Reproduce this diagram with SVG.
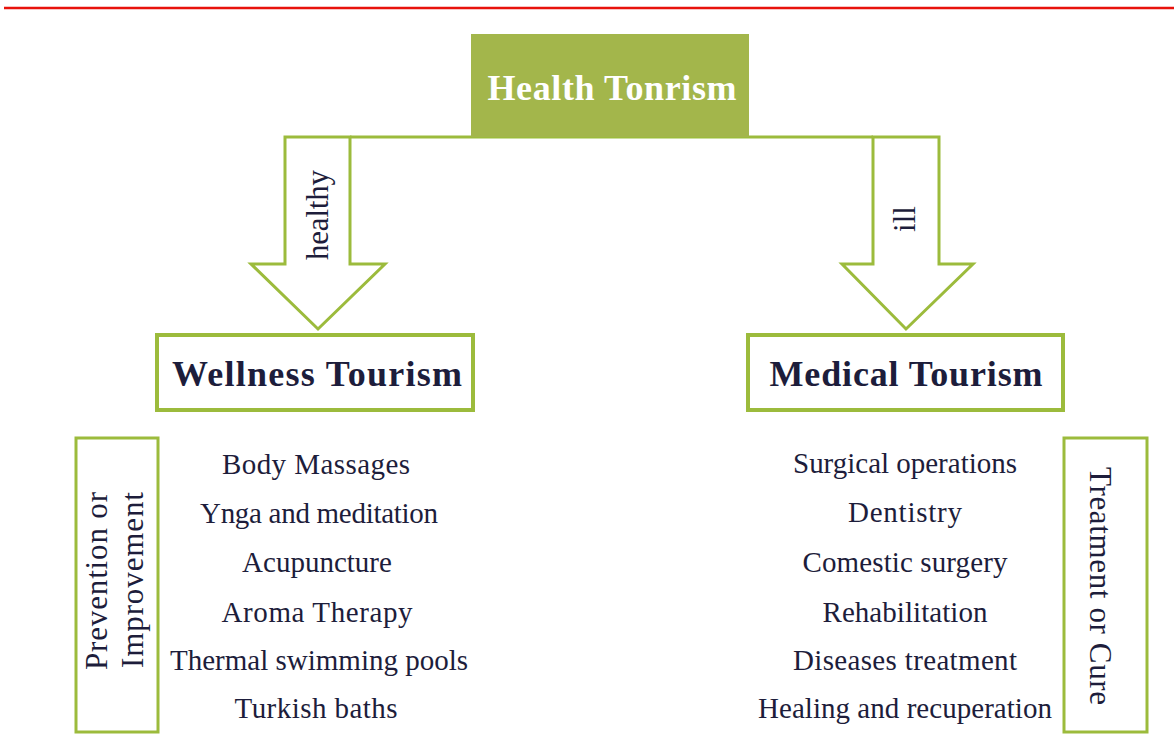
<svg xmlns="http://www.w3.org/2000/svg" width="1174" height="756" viewBox="0 0 1174 756">
  <style>
    .box { fill: #ffffff; stroke: #9cbb3c; stroke-width: 4; }
    .side { fill: #ffffff; stroke: #9cbb3c; stroke-width: 3; }
    .arrow { fill: #ffffff; stroke: #9cbb3c; stroke-width: 3; stroke-linejoin: miter; }
    .title { font-family: "Liberation Serif", "Times New Roman", serif; font-weight: bold; font-size: 36px; text-anchor: middle; }
    .item { font-family: "Liberation Serif", "Times New Roman", serif; font-size: 29px; fill: #1d1d3b; text-anchor: middle; }
    .vlabel { font-family: "Liberation Serif", "Times New Roman", serif; font-size: 31px; fill: #1d1d3b; text-anchor: middle; }
  </style>
  <rect x="0" y="0" width="1174" height="756" fill="#ffffff"/>
  <line x1="4" y1="8" x2="1174" y2="8" stroke="#e8130c" stroke-width="2.5"/>

  <g id="connectors">
    <path class="arrow" d="M350,137 L285,137 L285,264 L251,264 L318,329 L385,264 L350,264 Z"/>
    <path class="arrow" d="M873,137 L939,137 L939,264 L973,264 L906,329 L842,264 L873,264 Z"/>
    <line x1="350" y1="137" x2="873" y2="137" stroke="#9cbb3c" stroke-width="3"/>
    <text class="vlabel" transform="translate(328,215) rotate(-90)" textLength="90">healthy</text>
    <text class="vlabel" transform="translate(915,219) rotate(-90)">ill</text>
  </g>

  <g id="health-tourism">
    <rect x="471" y="34" width="278" height="103" fill="#a3b64b"/>
    <text class="title" x="612" y="100" fill="#ffffff" textLength="249">Health Tonrism</text>
  </g>

  <g id="wellness-tourism">
    <rect class="box" x="157" y="335" width="316" height="75"/>
    <text class="title" x="317" y="386" fill="#1d1d3b" textLength="290">Wellness Tourism</text>
  </g>

  <g id="medical-tourism">
    <rect class="box" x="748" y="335" width="315" height="75"/>
    <text class="title" x="906" y="386" fill="#1d1d3b" textLength="273">Medical Tourism</text>
  </g>

  <g id="prevention">
    <rect class="side" x="76" y="438" width="82" height="294"/>
    <text class="vlabel" transform="translate(107,581) rotate(-90)" textLength="178">Prevention or</text>
    <text class="vlabel" transform="translate(143,580) rotate(-90)" textLength="176">Improvement</text>
  </g>

  <g id="treatment">
    <rect class="side" x="1064" y="438" width="83" height="294"/>
    <text class="vlabel" transform="translate(1090,586) rotate(90)" textLength="238">Treatment or Cure</text>
  </g>

  <g id="wellness-items">
    <text class="item" x="316" y="474" textLength="188">Body Massages</text>
    <text class="item" x="319" y="523" textLength="238">Ynga and meditation</text>
    <text class="item" x="317" y="572">Acupuncture</text>
    <text class="item" x="317" y="622" textLength="191">Aroma Therapy</text>
    <text class="item" x="319" y="670" textLength="298">Thermal swimming pools</text>
    <text class="item" x="316" y="718" textLength="163">Turkish baths</text>
  </g>

  <g id="medical-items">
    <text class="item" x="905" y="473" textLength="224">Surgical operations</text>
    <text class="item" x="905" y="522" textLength="114">Dentistry</text>
    <text class="item" x="905" y="572" textLength="205">Comestic surgery</text>
    <text class="item" x="905" y="622" textLength="165">Rehabilitation</text>
    <text class="item" x="905" y="670" textLength="224">Diseases treatment</text>
    <text class="item" x="905" y="718" textLength="294">Healing and recuperation</text>
  </g>
</svg>
